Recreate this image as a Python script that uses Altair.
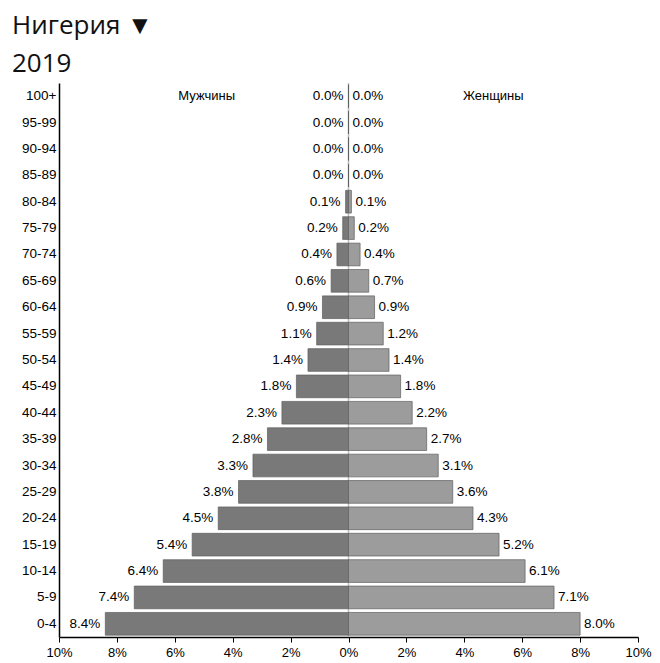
import altair as alt
import pandas as pd

ages = ["0-4", "5-9", "10-14", "15-19", "20-24", "25-29", "30-34", "35-39", "40-44",
        "45-49", "50-54", "55-59", "60-64", "65-69", "70-74", "75-79", "80-84",
        "85-89", "90-94", "95-99", "100+"]
male = [8.4, 7.4, 6.4, 5.4, 4.5, 3.8, 3.3, 2.8, 2.3, 1.8, 1.4, 1.1, 0.9, 0.6, 0.4,
        0.2, 0.1, 0.0, 0.0, 0.0, 0.0]
female = [8.0, 7.1, 6.1, 5.2, 4.3, 3.6, 3.1, 2.7, 2.2, 1.8, 1.4, 1.2, 0.9, 0.7, 0.4,
          0.2, 0.1, 0.0, 0.0, 0.0, 0.0]
sex_names = ["Мужчины", "Женщины"]
header_x = [-4.9, 5.0]
x_ticks = [-10, -8, -6, -4, -2, 0, 2, 4, 6, 8, 10]
title_lines = ["Нигерия ▼", "2019"]

rows = []
for a, m, f in zip(ages, male, female):
    rows.append({"age": a, "sex": sex_names[0], "value": m, "signed": -m,
                 "label": f"{m:.1f}%"})
    rows.append({"age": a, "sex": sex_names[1], "value": f, "signed": f,
                 "label": f"{f:.1f}%"})
df = pd.DataFrame(rows)
hdr = pd.DataFrame({"sex": sex_names, "x": header_x, "age": ["100+", "100+"]})

order = list(reversed(ages))
y_enc = alt.Y("age:N", sort=order,
              scale=alt.Scale(paddingInner=0.14, paddingOuter=0.07),
              axis=alt.Axis(title=None, ticks=False, labelFontSize=13.5,
                            labelFont="Liberation Sans", labelColor="#000",
                            labelPadding=3, domainColor="#000", domainWidth=1.5))
x_scale = alt.Scale(domain=[-10, 10], nice=False)
x_enc = alt.X("signed:Q", scale=x_scale,
              axis=alt.Axis(title=None, values=x_ticks, labelFlush=False,
                            labelExpr="abs(datum.value) + '%'", grid=False,
                            labelFontSize=13, labelFont="Liberation Sans",
                            labelColor="#000", tickSize=5, tickColor="#000",
                            domainColor="#000", domainWidth=1.5, labelPadding=4))

bars = alt.Chart(df).mark_bar(stroke="#5e5e5e", strokeWidth=0.7).encode(
    x=x_enc, y=y_enc,
    color=alt.Color("sex:N", scale=alt.Scale(domain=sex_names,
                                             range=["#797979", "#9c9c9c"]),
                    legend=None),
)

center = alt.Chart(pd.DataFrame({"z": [0]})).mark_rule(
    color="#bbbbbb", strokeWidth=1.5).encode(x=alt.X("z:Q", scale=x_scale))

lab_m = alt.Chart(df).transform_filter(alt.datum.sex == sex_names[0]).mark_text(
    align="right", dx=-5, fontSize=13.5, font="Liberation Sans", color="#000"
).encode(x=alt.X("signed:Q", scale=x_scale), y=alt.Y("age:N", sort=order), text="label:N")

lab_f = alt.Chart(df).transform_filter(alt.datum.sex == sex_names[1]).mark_text(
    align="left", dx=4, fontSize=13.5, font="Liberation Sans", color="#000"
).encode(x=alt.X("signed:Q", scale=x_scale), y=alt.Y("age:N", sort=order), text="label:N")

heads = alt.Chart(hdr).mark_text(
    fontSize=13, font="Liberation Sans", color="#000"
).encode(x=alt.X("x:Q", scale=x_scale), y=alt.Y("age:N", sort=order), text="sex:N")

chart = alt.layer(center, bars, lab_m, lab_f, heads).properties(
    width=579, height=554,
    autosize=alt.AutoSizeParams(type="none"),
    padding={"left": 51, "top": 75, "right": 14, "bottom": 26},
    title=alt.Title(text=title_lines, anchor="start", frame="group",
                    font="Open Sans", fontSize=26, fontWeight="normal",
                    color="#111", lineHeight=38, dx=-47, offset=5),
).configure_view(stroke=None)

chart.save("out.html", embed_options={"renderer": "svg", "actions": False})
